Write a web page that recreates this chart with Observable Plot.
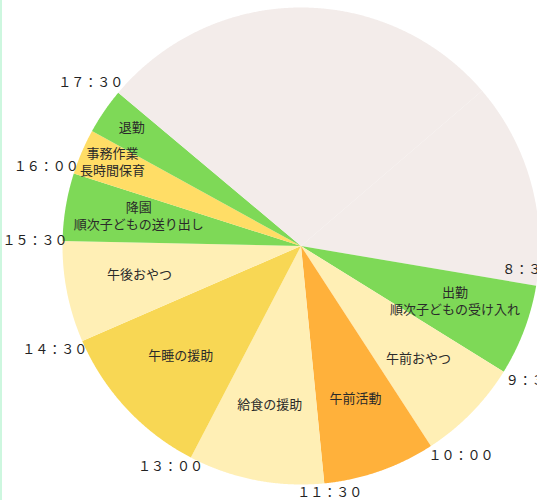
<!DOCTYPE html>
<html>
<head>
<meta charset="utf-8">
<script src="https://cdn.jsdelivr.net/npm/d3@7"></script>
<script src="https://cdn.jsdelivr.net/npm/@observablehq/plot@0.6"></script>
<style>
  html, body { margin: 0; padding: 0; background: #fff; }
  #edge { position: fixed; left: 0; top: 0; width: 2px; height: 100%; background: #cdf7df; z-index: 2; }
  #chart svg { display: block; }
</style>
</head>
<body>
<div id="edge"></div>
<div id="chart"></div>
<script>
// ---- data ----
const sliceLabels = ["", "", "出勤\n順次子どもの受け入れ", "午前おやつ", "午前活動", "給食の援助", "午睡の援助", "午後おやつ", "降園\n順次子どもの送り出し", "事務作業\n長時間保育", "退勤", ""];
const sliceValues = [49.4, 50.2, 22.2, 25.2, 27.4, 33.1, 39.0, 24.7, 16.5, 11.1, 11.2, 50.0];
const sliceColors = ["#f3ecea", "#f3ecea", "#7ed957", "#ffefb5", "#ffb13b", "#ffefb5", "#f8d754", "#ffefb5", "#7ed957", "#ffdd66", "#7ed957", "#f3ecea"];
const timeLabels = ["", "", "８：３０", "９：３０", "１０：００", "１１：３０", "１３：００", "１４：３０", "１５：３０", "１６：００", "", "１７：３０"];

// ---- layout ----
const W = 537, H = 500;
const cx = 300.5, cy = 245.5, R = 238.5;
const fs = 13;
const pol = (a, r) => [cx + r * Math.sin(a), cy - r * Math.cos(a)];

const arcs = d3.pie().sort(null).value(d => d.v)(
  sliceValues.map((v, i) => ({v, i, label: sliceLabels[i], color: sliceColors[i], time: timeLabels[i]}))
);

// polygon points for each slice
const pts = [];
for (const a of arcs) {
  const id = a.data.i, color = a.data.color;
  const [x0, y0] = pol(0, 0);
  pts.push({id, color, x: x0, y: y0});
  const n = Math.max(2, Math.ceil((a.endAngle - a.startAngle) / (Math.PI / 720)));
  for (let k = 0; k <= n; k++) {
    const ang = a.startAngle + (a.endAngle - a.startAngle) * k / n;
    const [x, y] = pol(ang, R);
    pts.push({id, color, x, y});
  }
}

// inner labels
const inner = arcs.filter(a => a.data.label).map(a => {
  const mid = (a.startAngle + a.endAngle) / 2;
  const span = (a.endAngle - a.startAngle) * 180 / Math.PI;
  const r = span < 15 ? 0.86 * R : 0.69 * R;
  const [x, y] = pol(mid, r);
  return {x, y: y - 4, text: a.data.label};
});

// time labels at slice start boundaries
const clamp = (v, lo, hi) => Math.max(lo, Math.min(hi, v));
const times = arcs.filter(a => a.data.time).map(a => {
  const t = a.startAngle;
  const w = fs * a.data.time.length;
  const [xb, yb] = pol(t, R);
  const s = clamp(1.6 * Math.sin(t), -1, 1);
  let x = xb + (s > 0 ? w / 2 + 2 : w / 2 - 5) * s;
  let y = yb - 9.5 * clamp(2.2 * Math.cos(t), -1, 1);
  if (x - w / 2 > W - 10) {            // would fall outside the frame: put it just inside the pie
    [x, y] = pol(t - 3.5 * Math.PI / 180, R - 10);
  }
  return {x, y, text: a.data.time};
});

const chart = Plot.plot({
  width: W,
  height: H,
  margin: 0,
  x: {domain: [0, W], range: [0, W], axis: null},
  y: {domain: [0, H], range: [0, H], axis: null},
  style: {fontFamily: "'Noto Sans CJK JP', 'Noto Sans', sans-serif", background: "transparent"},
  marks: [
    Plot.line(pts, {x: "x", y: "y", z: "id", fill: "color", stroke: null, curve: "linear"}),
    Plot.text(inner, {x: "x", y: "y", text: "text", fontSize: fs, fill: "#2a2a2a", lineHeight: 1.3, textAnchor: "middle"}),
    Plot.text(times, {x: "x", y: "y", text: "text", fontSize: fs, fill: "#222", textAnchor: "middle"})
  ]
});
document.getElementById("chart").appendChild(chart);
</script>
</body>
</html>
